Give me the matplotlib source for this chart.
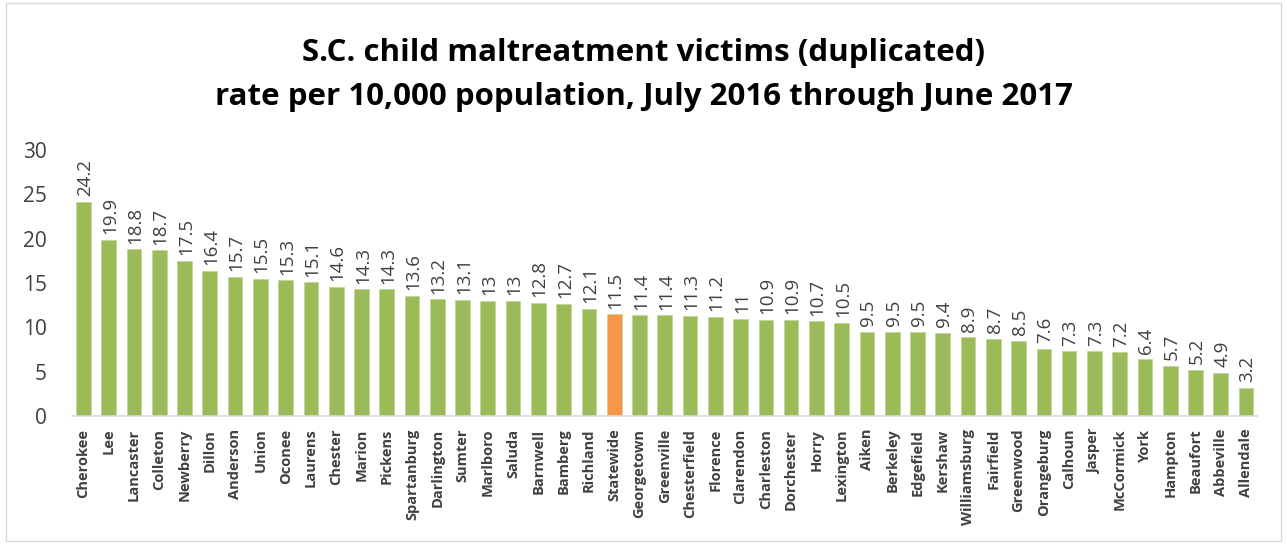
import matplotlib
matplotlib.use("Agg")
import matplotlib.pyplot as plt
from matplotlib.patches import Rectangle

counties = ["Cherokee", "Lee", "Lancaster", "Colleton", "Newberry", "Dillon", "Anderson", "Union",
            "Oconee", "Laurens", "Chester", "Marion", "Pickens", "Spartanburg", "Darlington", "Sumter",
            "Marlboro", "Saluda", "Barnwell", "Bamberg", "Richland", "Statewide", "Georgetown",
            "Greenville", "Chesterfield", "Florence", "Clarendon", "Charleston", "Dorchester", "Horry",
            "Lexington", "Aiken", "Berkeley", "Edgefield", "Kershaw", "Williamsburg", "Fairfield",
            "Greenwood", "Orangeburg", "Calhoun", "Jasper", "McCormick", "York", "Hampton", "Beaufort",
            "Abbeville", "Allendale"]
rates = [24.2, 19.9, 18.8, 18.7, 17.5, 16.4, 15.7, 15.5, 15.3, 15.1, 14.6, 14.3, 14.3, 13.6, 13.2,
         13.1, 13, 13, 12.8, 12.7, 12.1, 11.5, 11.4, 11.4, 11.3, 11.2, 11, 10.9, 10.9, 10.7, 10.5,
         9.5, 9.5, 9.5, 9.4, 8.9, 8.7, 8.5, 7.6, 7.3, 7.3, 7.2, 6.4, 5.7, 5.2, 4.9, 3.2]
yticks = [0, 5, 10, 15, 20, 25, 30]
title = "S.C. child maltreatment victims (duplicated)\nrate per 10,000 population, July 2016 through June 2017"

GREEN = "#9BBB59"
ORANGE = "#F79646"
TEXT = "#404040"

plt.rcParams['font.family'] = ['Open Sans', 'DejaVu Sans']

fig = plt.figure(figsize=(12.87, 5.44), dpi=100)
ax = fig.add_axes([0.056, 0.235, 0.921, 0.489])

x = list(range(len(counties)))
colors = [ORANGE if c == "Statewide" else GREEN for c in counties]
ax.bar(x, rates, width=0.58, color=colors, edgecolor="#C3D69B", linewidth=0.6)

for xi, v in zip(x, rates):
    ax.annotate(f"{v:g}", (xi, v), xytext=(1, 4), textcoords="offset points",
                rotation=90, ha="center", va="bottom", fontsize=13.5, color=TEXT,
                annotation_clip=False)

ax.set_xlim(-0.45, len(counties) - 0.55)
ax.set_ylim(0, 30)
ax.set_yticks(yticks)
ax.set_yticklabels([str(t) for t in yticks], fontsize=15, color=TEXT)
ax.set_xticks(x)
ax.set_xticklabels(counties, rotation=90, fontsize=10.5, fontweight="bold", color=TEXT)
ax.tick_params(axis="both", length=0)
ax.tick_params(axis="y", pad=18)
ax.tick_params(axis="x", pad=9)
for s in ["top", "right", "left"]:
    ax.spines[s].set_visible(False)
ax.spines["bottom"].set_color("#D9D9D9")
ax.spines["bottom"].set_linewidth(1.2)

fig.text(0.5, 0.862, title, ha="center", va="center", fontsize=22.5, fontweight="bold",
         color="black", linespacing=1.6)

fig.patches.append(Rectangle((0.005, 0.005), 0.99, 0.99, transform=fig.transFigure,
                             fill=False, edgecolor="#D9D9D9", linewidth=1))

fig.savefig("out.png", dpi=100)
